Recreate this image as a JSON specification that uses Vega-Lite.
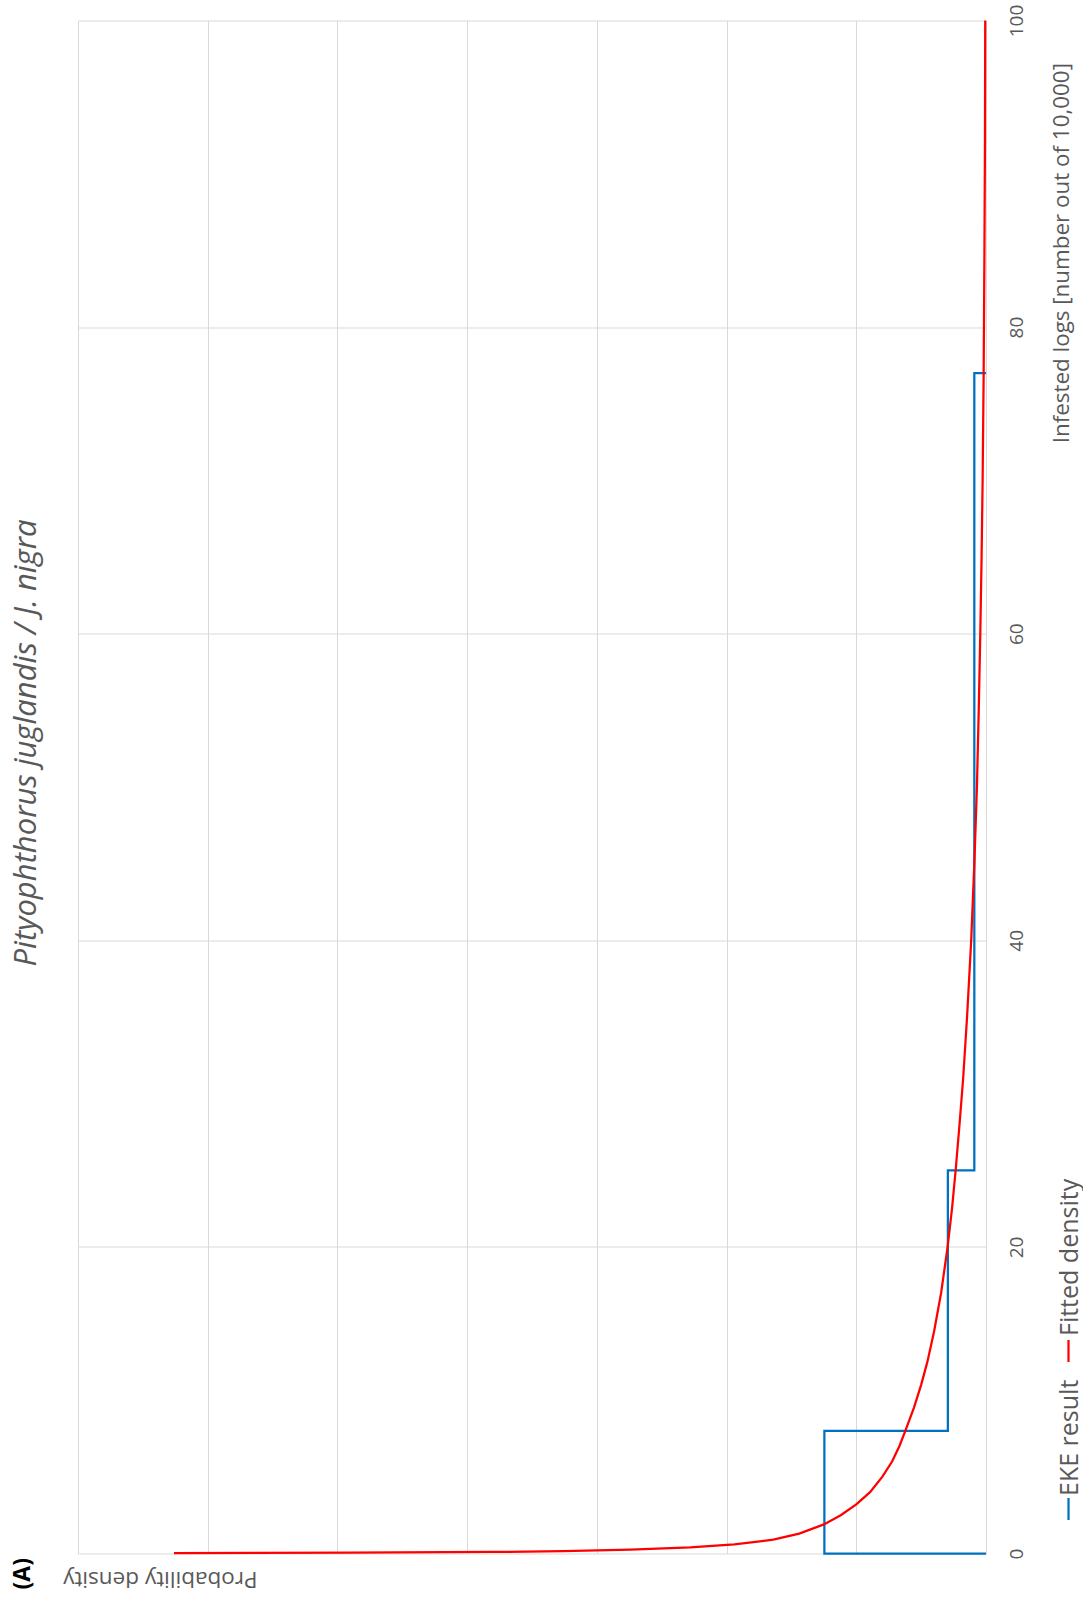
{
  "$schema": "https://vega.github.io/schema/vega-lite/v6.json",
  "background": "white",
  "padding": {"left": 10, "top": 3.5, "right": 2, "bottom": 8},
  "config": {
    "font": "Open Sans",
    "view": {"stroke": null},
    "legend": {
      "orient": "none",
      "title": null,
      "direction": "vertical",
      "symbolType": "M0,-1L0,1",
      "symbolStrokeWidth": 2.25,
      "symbolSize": 484,
      "labelFont": "Open Sans",
      "labelFontSize": 25,
      "labelColor": "#595959",
      "labelAlign": "left",
      "labelBaseline": "middle",
      "labelOffset": 0,
      "labelLimit": 0
    }
  },
  "title": {
    "text": "(A)",
    "orient": "left",
    "anchor": "start",
    "font": "Open Sans",
    "fontSize": 23,
    "fontWeight": "bold",
    "color": "#000000",
    "offset": -24
  },
  "vconcat": [
    {
      "width": 908,
      "height": 1533,
      "title": {
        "text": "Pityophthorus juglandis / J. nigra",
        "orient": "left",
        "anchor": "middle",
        "frame": "group",
        "font": "Open Sans",
        "fontSize": 31,
        "fontStyle": "italic",
        "fontWeight": "normal",
        "color": "#595959",
        "offset": 20,
        "dx": 44
      },
      "data": {
        "values": [
          {"series": "EKE result", "i": 0, "logs": 0, "density": 0},
          {"series": "EKE result", "i": 1, "logs": 0, "density": 0.0623},
          {"series": "EKE result", "i": 2, "logs": 8, "density": 0.0623},
          {"series": "EKE result", "i": 3, "logs": 8, "density": 0.0147},
          {"series": "EKE result", "i": 4, "logs": 25, "density": 0.0147},
          {"series": "EKE result", "i": 5, "logs": 25, "density": 0.0045},
          {"series": "EKE result", "i": 6, "logs": 77, "density": 0.0045},
          {"series": "EKE result", "i": 7, "logs": 77, "density": 0},
          {"series": "Fitted density", "i": 0, "logs": 0.02, "density": 0.313},
          {"series": "Fitted density", "i": 1, "logs": 0.05, "density": 0.245},
          {"series": "Fitted density", "i": 2, "logs": 0.1, "density": 0.19},
          {"series": "Fitted density", "i": 3, "logs": 0.15, "density": 0.163},
          {"series": "Fitted density", "i": 4, "logs": 0.25, "density": 0.137},
          {"series": "Fitted density", "i": 5, "logs": 0.4, "density": 0.114},
          {"series": "Fitted density", "i": 6, "logs": 0.6, "density": 0.097},
          {"series": "Fitted density", "i": 7, "logs": 0.9, "density": 0.082},
          {"series": "Fitted density", "i": 8, "logs": 1.3, "density": 0.072},
          {"series": "Fitted density", "i": 9, "logs": 1.9, "density": 0.0625},
          {"series": "Fitted density", "i": 10, "logs": 2.5, "density": 0.056},
          {"series": "Fitted density", "i": 11, "logs": 3.2, "density": 0.05},
          {"series": "Fitted density", "i": 12, "logs": 4, "density": 0.0447},
          {"series": "Fitted density", "i": 13, "logs": 5, "density": 0.04},
          {"series": "Fitted density", "i": 14, "logs": 6, "density": 0.0362},
          {"series": "Fitted density", "i": 15, "logs": 7, "density": 0.0334},
          {"series": "Fitted density", "i": 16, "logs": 8, "density": 0.0311},
          {"series": "Fitted density", "i": 17, "logs": 9.5, "density": 0.0278},
          {"series": "Fitted density", "i": 18, "logs": 11, "density": 0.025},
          {"series": "Fitted density", "i": 19, "logs": 12.5, "density": 0.0226},
          {"series": "Fitted density", "i": 20, "logs": 14.5, "density": 0.02},
          {"series": "Fitted density", "i": 21, "logs": 17, "density": 0.0173},
          {"series": "Fitted density", "i": 22, "logs": 20, "density": 0.0148},
          {"series": "Fitted density", "i": 23, "logs": 22.5, "density": 0.0131},
          {"series": "Fitted density", "i": 24, "logs": 25, "density": 0.0117},
          {"series": "Fitted density", "i": 25, "logs": 28, "density": 0.0102},
          {"series": "Fitted density", "i": 26, "logs": 31, "density": 0.0088},
          {"series": "Fitted density", "i": 27, "logs": 35, "density": 0.0073},
          {"series": "Fitted density", "i": 28, "logs": 40, "density": 0.0057},
          {"series": "Fitted density", "i": 29, "logs": 45, "density": 0.0045},
          {"series": "Fitted density", "i": 30, "logs": 50, "density": 0.0035},
          {"series": "Fitted density", "i": 31, "logs": 55, "density": 0.0028},
          {"series": "Fitted density", "i": 32, "logs": 60, "density": 0.0022},
          {"series": "Fitted density", "i": 33, "logs": 65, "density": 0.0017},
          {"series": "Fitted density", "i": 34, "logs": 70, "density": 0.0013},
          {"series": "Fitted density", "i": 35, "logs": 77, "density": 0.0009},
          {"series": "Fitted density", "i": 36, "logs": 85, "density": 0.0006},
          {"series": "Fitted density", "i": 37, "logs": 92, "density": 0.0004},
          {"series": "Fitted density", "i": 38, "logs": 100, "density": 0.0003}
        ]
      },
      "encoding": {
        "x": {
          "field": "density",
          "type": "quantitative",
          "scale": {"domain": [0, 0.35], "reverse": true, "nice": false},
          "axis": {
            "orient": "bottom",
            "values": [0, 0.05, 0.1, 0.15, 0.2, 0.25, 0.3, 0.35],
            "grid": true,
            "gridColor": "#d9d9d9",
            "gridWidth": 1,
            "domain": false,
            "ticks": false,
            "tickSize": 0,
            "labels": false,
            "title": "Probability density",
            "titleAngle": 180,
            "titleAlign": "left",
            "titleBaseline": "alphabetic",
            "titleX": 179,
            "titleY": 18,
            "titleFont": "Open Sans",
            "titleFontSize": 22.5,
            "titleFontWeight": "normal",
            "titleColor": "#595959"
          }
        },
        "y": {
          "field": "logs",
          "type": "quantitative",
          "scale": {"domain": [0, 100], "nice": false},
          "axis": {
            "orient": "right",
            "values": [0, 20, 40, 60, 80, 100],
            "grid": true,
            "gridColor": "#d9d9d9",
            "gridWidth": 1,
            "domain": false,
            "ticks": false,
            "tickSize": 0,
            "labelAngle": -90,
            "labelAlign": "center",
            "labelBaseline": "alphabetic",
            "labelPadding": 36,
            "labelFont": "Open Sans",
            "labelFontSize": 19,
            "labelColor": "#595959",
            "title": "Infested logs [number out of 10,000]",
            "titleAngle": -90,
            "titleAlign": "right",
            "titleBaseline": "alphabetic",
            "titleX": 82,
            "titleY": 42,
            "titleFont": "Open Sans",
            "titleFontSize": 22.4,
            "titleFontWeight": "normal",
            "titleColor": "#595959"
          }
        },
        "order": {"field": "i", "type": "quantitative"}
      },
      "layer": [
        {
          "transform": [{"filter": "datum.series === 'EKE result'"}],
          "mark": {"type": "line", "strokeWidth": 2.25, "strokeJoin": "miter"},
          "encoding": {
            "color": {
              "field": "series",
              "type": "nominal",
              "scale": {"domain": ["EKE result"], "range": ["#0070C0"]},
              "legend": {
                "legendX": 978,
                "legendY": 1476,
                "encode": {
                  "labels": {
                    "update": {
                      "angle": {"value": -90},
                      "dx": {"value": 13},
                      "dy": {"value": -11}
                    }
                  }
                }
              }
            }
          }
        },
        {
          "transform": [{"filter": "datum.series === 'Fitted density'"}],
          "mark": {"type": "line", "strokeWidth": 2.25},
          "encoding": {
            "stroke": {
              "field": "series",
              "type": "nominal",
              "scale": {"domain": ["Fitted density"], "range": ["#FF0000"]},
              "legend": {
                "legendX": 978,
                "legendY": 1318,
                "encode": {
                  "labels": {
                    "update": {
                      "angle": {"value": -90},
                      "dx": {"value": 15},
                      "dy": {"value": -11}
                    }
                  }
                }
              }
            }
          }
        }
      ]
    }
  ]
}
